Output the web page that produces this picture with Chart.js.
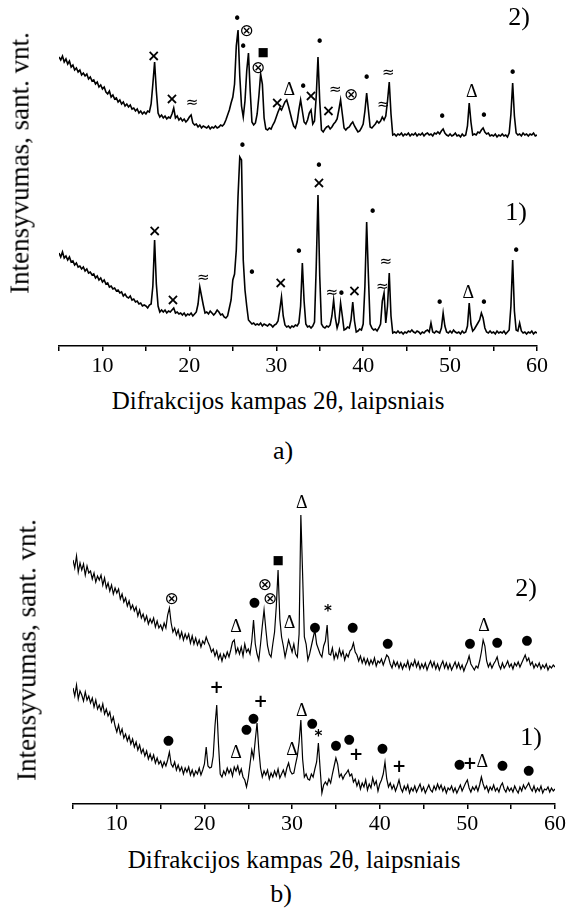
<!DOCTYPE html>
<html>
<head>
<meta charset="utf-8">
<script src="https://cdn.jsdelivr.net/npm/chart.js@4.4.1/dist/chart.umd.min.js"></script>
<style>
  body { margin: 0; background: #fff; }
  #page { position: relative; width: 568px; height: 922px; overflow: hidden; color: #000;
          font-family: "Liberation Serif", "Times New Roman", Tinos, "DejaVu Serif", serif; }
  canvas { position: absolute; left: 0; }
  .txt { position: absolute; white-space: nowrap; line-height: 1; transform: translate(-50%, -50%); }
  .ylab { transform: translate(-50%, -50%) rotate(-90deg); }
</style>
</head>
<body>
<div id="page">
  <canvas id="chartA" width="568" height="380" style="top:0"></canvas>
  <canvas id="chartB" width="568" height="358" style="top:480px"></canvas>

  <div class="txt ylab" style="left:20px;top:163px;font-size:27px">Intensyvumas, sant. vnt.</div>
  <div class="txt" style="left:278px;top:400px;font-size:25px">Difrakcijos kampas 2θ, laipsniais</div>
  <div class="txt" style="left:283px;top:451px;font-size:26px">a)</div>
  <div class="txt" style="left:519px;top:17px;font-size:26px">2)</div>
  <div class="txt" style="left:516px;top:212px;font-size:26px">1)</div>

  <div class="txt ylab" style="left:27px;top:650px;font-size:27px">Intensyvumas, sant. vnt.</div>
  <div class="txt" style="left:294px;top:859px;font-size:25px">Difrakcijos kampas 2θ, laipsniais</div>
  <div class="txt" style="left:281px;top:894px;font-size:26px">b)</div>
  <div class="txt" style="left:526px;top:588px;font-size:26px">2)</div>
  <div class="txt" style="left:531px;top:737px;font-size:26px">1)</div>
</div>

<script>
// scan grid: 5.0 .. 60.0 deg, 0.2 deg step (5 readings per line)
const angleStart = 5;
const angleStep = 0.2;
const serif = '"Liberation Serif", "Times New Roman", Tinos, "DejaVu Serif", serif';

// a) curve 2)
const intensityA2 = [
  289, 286, 290, 284, 287, // 5
  282, 285, 279, 281, 276,
  278, 274, 276, 271, 273,
  270, 272, 267, 269, 265,
  266, 262, 264, 259, 261,
  257, 259, 254, 252, 255, // 10
  249, 251, 247, 248, 244,
  246, 242, 244, 240, 242,
  239, 241, 237, 238, 235,
  237, 233, 235, 232, 234,
  232, 235, 234, 242, 262, // 15
  284, 255, 233, 229, 231,
  228, 230, 227, 229, 228,
  232, 238, 228, 230, 226,
  228, 225, 227, 224, 226,
  229, 231, 223, 221, 222, // 20
  219, 221, 218, 220, 219,
  218, 220, 217, 219, 218,
  220, 218, 219, 221, 220,
  222, 226, 231, 236, 243,
  249, 262, 300, 316, 270, // 25
  240, 229, 245, 275, 293,
  255, 224, 221, 223, 232,
  250, 272, 262, 228, 217,
  216, 218, 217, 221, 224,
  229, 234, 238, 236, 240, // 30
  244, 246, 240, 233, 226,
  220, 218, 224, 236, 246,
  235, 224, 222, 226, 233,
  236, 222, 225, 250, 289,
  245, 216, 214, 217, 219, // 35
  220, 217, 219, 222, 224,
  227, 236, 246, 232, 218,
  216, 218, 219, 222, 224,
  220, 217, 214, 215, 218,
  222, 235, 253, 236, 219, // 40
  218, 220, 222, 225, 223,
  225, 229, 226, 230, 245,
  264, 232, 211, 212, 210,
  212, 211, 213, 210, 212,
  211, 213, 210, 212, 211, // 45
  213, 210, 212, 211, 213,
  210, 212, 213, 211, 212,
  210, 213, 212, 214, 212,
  215, 217, 213, 211, 210,
  212, 210, 211, 213, 210, // 50
  211, 209, 212, 210, 211,
  220, 243, 224, 211, 212,
  211, 214, 213, 216, 218,
  214, 212, 213, 210, 211,
  210, 212, 209, 211, 210, // 55
  212, 210, 211, 209, 213,
  232, 263, 230, 213, 211,
  212, 210, 213, 211, 212,
  210, 212, 211, 213, 210,
  211 // 60
];

// a) curve 1)
const intensityA1 = [
  93, 89, 94, 88, 90, // 5
  86, 89, 84, 85, 81,
  83, 79, 80, 77, 79,
  75, 77, 73, 74, 71,
  72, 68, 70, 66, 68,
  64, 66, 62, 63, 59, // 10
  60, 57, 58, 55, 56,
  53, 54, 50, 52, 49,
  48, 50, 46, 47, 44,
  45, 42, 43, 40, 41,
  40, 38, 41, 42, 60, // 15
  106, 62, 40, 34, 36,
  34, 36, 33, 35, 34,
  36, 38, 33, 34, 32,
  33, 31, 33, 30, 32,
  31, 33, 30, 32, 34, // 20
  42, 59, 50, 41, 33,
  34, 32, 35, 33, 31,
  33, 36, 34, 31, 32,
  29, 28, 30, 38, 46,
  66, 72, 96, 150, 189, // 25
  186, 86, 56, 40, 26,
  24, 22, 23, 21, 22,
  21, 23, 20, 22, 21,
  20, 22, 21, 19, 21,
  22, 25, 36, 49, 30, // 30
  21, 19, 20, 18, 20,
  19, 21, 20, 23, 40,
  83, 45, 22, 19, 20,
  18, 20, 24, 80, 151,
  70, 22, 19, 18, 20, // 35
  19, 21, 30, 46, 28,
  18, 24, 43, 30, 16,
  17, 19, 18, 26, 44,
  25, 14, 15, 17, 16,
  22, 60, 124, 70, 22, // 40
  18, 16, 17, 15, 18,
  22, 45, 53, 23, 40,
  73, 30, 13, 14, 13,
  15, 13, 14, 12, 14,
  13, 15, 14, 16, 14, // 45
  13, 15, 14, 12, 14,
  13, 15, 16, 14, 23,
  14, 13, 15, 14, 13,
  18, 33, 20, 14, 13,
  15, 13, 16, 14, 13, // 50
  14, 12, 15, 13, 14,
  20, 43, 22, 15, 17,
  20, 23, 26, 33, 28,
  18, 14, 13, 15, 13,
  14, 12, 15, 13, 14, // 55
  13, 15, 12, 14, 16,
  40, 86, 35, 16, 15,
  23, 15, 13, 14, 12,
  14, 13, 15, 12, 14,
  13 // 60
];

// b) curve 2)
const intensityB2 = [
  244, 236, 248, 232, 241, // 5
  234, 240, 229, 238, 231,
  233, 225, 231, 222, 228,
  224, 229, 219, 226, 216,
  221, 213, 219, 210, 216,
  211, 215, 205, 210, 202, // 10
  206, 198, 203, 195, 199,
  193, 197, 188, 194, 186,
  190, 183, 188, 180, 185,
  181, 186, 177, 183, 176,
  179, 174, 181, 176, 189, // 15
  196, 181, 172, 176, 169,
  174, 166, 172, 164, 170,
  165, 170, 161, 168, 160,
  166, 159, 164, 157, 163,
  160, 167, 162, 158, 152, // 20
  155, 148, 153, 145, 150,
  143, 150, 146, 152, 147,
  154, 162, 164, 151, 156,
  150, 157, 148, 160, 152,
  155, 150, 163, 184, 160, // 25
  150, 144, 160, 178, 194,
  175, 158, 150, 147, 160,
  172, 198, 234, 185, 167,
  158, 147, 155, 164, 158,
  152, 160, 150, 147, 170, // 30
  289, 230, 167, 160, 144,
  150, 158, 166, 174, 160,
  155, 150, 147, 158, 163,
  179, 150, 149, 156, 145,
  151, 146, 155, 148, 153, // 35
  144, 150, 147, 153, 155,
  161, 152, 149, 143, 148,
  141, 146, 140, 145, 139,
  144, 140, 146, 138, 143,
  141, 145, 139, 144, 149, // 40
  147, 140, 136, 143, 138,
  142, 136, 141, 135, 140,
  137, 143, 135, 141, 138,
  144, 137, 142, 135, 140,
  136, 141, 134, 139, 143, // 45
  137, 142, 135, 140, 134,
  139, 143, 136, 141, 135,
  140, 134, 138, 142, 136,
  141, 135, 139, 133, 138,
  142, 148, 140, 137, 134, // 50
  138, 136, 143, 152, 164,
  158, 143, 137, 141, 136,
  140, 143, 147, 139, 135,
  141, 136, 139, 143, 137,
  140, 135, 141, 138, 142, // 55
  137, 141, 145, 149, 143,
  146, 139, 142, 136, 140,
  137, 141, 135, 139, 136,
  140, 134, 138, 136, 139,
  137 // 60
];

// b) curve 1)
const intensityB1 = [
  116, 108, 119, 105, 113, // 5
  109, 103, 112, 104, 108,
  101, 106, 97, 104, 95,
  99, 93, 100, 90, 95,
  88, 92, 82, 87, 78,
  72, 79, 70, 75, 66, // 10
  70, 63, 68, 60, 65,
  57, 62, 54, 59, 51,
  55, 48, 53, 45, 50,
  44, 49, 41, 46, 40,
  43, 37, 42, 38, 44, // 15
  52, 40, 37, 42, 34,
  39, 33, 37, 30, 36,
  32, 37, 29, 34, 28,
  33, 30, 36, 29, 34,
  40, 57, 38, 36, 37, // 20
  48, 78, 99, 60, 30,
  27, 33, 29, 36, 31,
  35, 28, 37, 33, 38,
  30, 35, 27, 24, 17,
  26, 40, 54, 46, 64, // 25
  81, 55, 36, 27, 33,
  29, 34, 25, 31, 27,
  33, 28, 35, 26, 30,
  34, 28, 36, 41, 33,
  30, 31, 40, 48, 62, // 30
  84, 45, 27, 30, 25,
  24, 30, 27, 35, 42,
  61, 35, 11, 19, 22,
  19, 25, 21, 30, 38,
  46, 40, 27, 30, 25, // 35
  29, 31, 34, 28, 30,
  22, 25, 18, 23, 15,
  21, 17, 24, 14, 20,
  16, 26, 19, 23, 13,
  20, 24, 30, 42, 25, // 40
  17, 21, 15, 19, 13,
  18, 24, 16, 12, 18,
  14, 19, 11, 16, 13,
  18, 12, 16, 20, 13,
  17, 11, 15, 19, 14, // 45
  12, 18, 14, 20, 15,
  19, 13, 17, 11, 16,
  14, 18, 12, 16, 11,
  15, 19, 13, 17, 21,
  24, 16, 12, 17, 14, // 50
  18, 13, 19, 27, 20,
  15, 18, 12, 17, 14,
  19, 13, 16, 12, 18,
  21, 15, 12, 17, 13,
  16, 12, 18, 14, 11, // 55
  17, 13, 19, 15, 18,
  21, 16, 13, 18, 12,
  16, 13, 18, 11, 15,
  14, 17, 12, 16, 13,
  15 // 60
];

// phase marks: [symbol, angle, intensity]
const marksA2 = [
  ['×', 15.9, 289], ['×', 18.0, 246], ['≈', 20.3, 243], ['•', 25.5, 326], ['⊗', 26.6, 314],
  ['•', 26.2, 298], ['■', 28.5, 293], ['⊗', 27.9, 277], ['×', 30.1, 242], ['Δ', 31.5, 256],
  ['•', 33.1, 258], ['×', 34.0, 249], ['•', 35.0, 303], ['×', 36.0, 234], ['≈', 36.8, 256],
  ['⊗', 38.6, 250], ['•', 40.4, 267], ['≈', 42.3, 241], ['≈', 42.9, 273], ['•', 49.1, 228],
  ['Δ', 52.5, 254], ['•', 53.9, 229], ['•', 57.2, 272]
];
const marksA1 = [
  ['×', 16.0, 114], ['×', 18.1, 45], ['≈', 21.6, 68], ['•', 26.1, 199], ['•', 27.2, 72],
  ['×', 30.5, 62], ['•', 32.6, 93], ['•', 34.9, 179], ['×', 34.9, 162], ['≈', 36.4, 53],
  ['•', 37.5, 51], ['×', 39.0, 54], ['•', 41.1, 133], ['≈', 42.2, 59], ['≈', 42.6, 84],
  ['•', 48.8, 42], ['Δ', 52.1, 53], ['•', 53.9, 42], ['•', 57.6, 94]
];
const marksB2 = [
  ['⊗', 16.25, 204], ['Δ', 23.6, 177], ['●', 25.7, 201], ['⊗', 26.9, 218], ['⊗', 27.5, 204],
  ['■', 28.4, 243], ['Δ', 29.7, 181], ['Δ', 31.1, 301], ['●', 32.6, 176], ['*', 34.1, 192],
  ['●', 36.9, 176], ['●', 40.9, 160], ['●', 50.3, 160], ['Δ', 51.9, 178], ['●', 53.4, 161],
  ['●', 56.8, 163]
];
const marksB1 = [
  ['●', 15.9, 63], ['+', 21.4, 115], ['Δ', 23.6, 51], ['●', 24.8, 74], ['●', 25.6, 85],
  ['+', 26.4, 101], ['Δ', 30.0, 54], ['Δ', 31.1, 93], ['●', 32.3, 80], ['*', 33.0, 67],
  ['●', 35.0, 58], ['●', 36.5, 64], ['+', 37.3, 48], ['●', 40.3, 55], ['+', 42.2, 36],
  ['●', 49.1, 39], ['+', 50.3, 39], ['Δ', 51.7, 42], ['●', 54.0, 38], ['●', 57.0, 33]
];

const symbolFonts = {
  '•': '15px "DejaVu Sans"',
  '●': '13px "DejaVu Sans"',
  '×': 'bold 16px "DejaVu Sans"',
  '≈': '15px "DejaVu Sans"',
  '⊗': '17px "DejaVu Sans"',
  '■': '12px "DejaVu Sans"',
  '+': 'bold 17px "DejaVu Sans"',
  '*': 'bold 15px "DejaVu Sans"',
  'Δ': '18px ' + serif
};

// draws the phase symbols over the peaks
const peakLabels = {
  id: 'peakLabels',
  afterDatasetsDraw(chart, args, opts) {
    const { ctx, scales: { x, y } } = chart;
    ctx.save();
    ctx.fillStyle = '#000';
    ctx.textAlign = 'center';
    ctx.textBaseline = 'middle';
    opts.marks.forEach(([sym, angle, value]) => {
      ctx.font = symbolFonts[sym];
      ctx.fillText(sym, x.getPixelForValue(angle), y.getPixelForValue(value));
    });
    ctx.restore();
  }
};

function toPoints(values) {
  return values.map((v, i) => ({ x: +(angleStart + i * angleStep).toFixed(1), y: v }));
}

function xrdChart(id, curves, marks, o) {
  return new Chart(document.getElementById(id), {
    type: 'line',
    data: {
      datasets: curves.map(values => ({
        data: toPoints(values),
        borderColor: '#000',
        borderWidth: o.lineWidth,
        pointRadius: 0,
        tension: 0,
        fill: false
      }))
    },
    options: {
      responsive: false,
      animation: false,
      layout: { padding: { left: o.left, right: o.right, top: 0, bottom: 0 } },
      plugins: { legend: { display: false }, tooltip: { enabled: false }, peakLabels: { marks } },
      scales: {
        x: {
          type: 'linear', min: 5, max: 60,
          afterFit: s => { s.height = 34; },
          ticks: {
            stepSize: 5, autoSkip: false, maxRotation: 0, padding: 2, color: '#000',
            font: { family: serif, size: 22 },
            callback: v => v % 10 === 0 ? v : ''
          },
          grid: { drawOnChartArea: false, drawTicks: true, tickLength: 5, color: '#000', lineWidth: 1.5 },
          border: { display: true, color: '#000', width: 1.5 }
        },
        y: { display: false, min: 0, max: o.top }
      }
    },
    plugins: [peakLabels]
  });
}

xrdChart('chartA', [intensityA2, intensityA1], marksA2.concat(marksA1),
  { left: 59, right: 31, top: 346, lineWidth: 1.6 });
xrdChart('chartB', [intensityB2, intensityB1], marksB2.concat(marksB1),
  { left: 73, right: 11, top: 324, lineWidth: 1.2 });
</script>
</body>
</html>
